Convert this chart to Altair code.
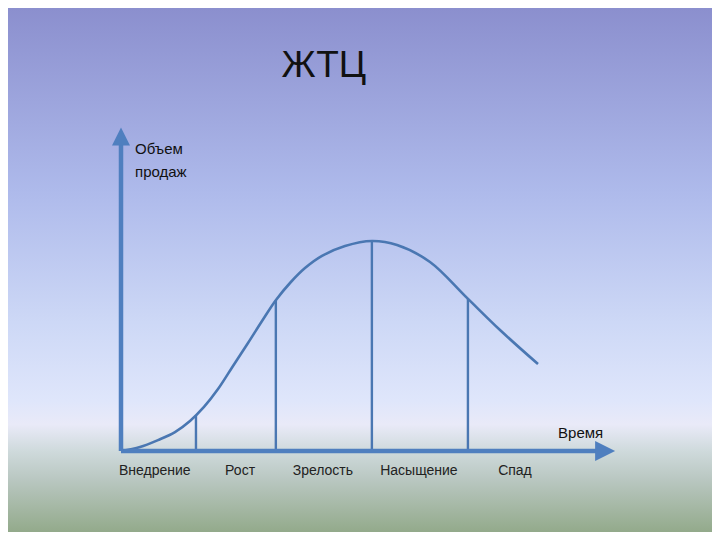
import altair as alt
import pandas as pd

# ---- data (time units / sales units) ----
curve_t = [0.0, 0.388, 0.755, 1.102, 1.408, 1.694, 1.980, 2.286, 2.592, 2.878, 3.163, 3.449, 3.755, 4.102, 4.571, 5.122, 5.633, 6.306, 7.061, 7.735, 8.510]
curve_v = [0.0, 1.9, 5.2, 9.0, 14.3, 21.0, 29.5, 40.5, 51.4, 61.9, 71.9, 80.0, 87.1, 92.9, 97.6, 100.0, 98.1, 90.0, 72.9, 57.6, 41.4]

bound_t = [1.53, 3.16, 5.12, 7.08]
bound_top = [17.0, 71.9, 100.0, 72.4]

stages = ["Внедрение", "Рост", "Зрелость", "Насыщение", "Спад"]
stage_t = [0.69, 2.43, 4.12, 6.08, 8.04]
stage_v = -9.5

title_text = "ЖТЦ"
y_label = ["Объем", "продаж"]
y_label_v = [143.8, 132.9]
x_label = "Время"

axis_x_end = 9.71
axis_y_end = 145.7

W, H = 704, 524
xs = alt.Scale(domain=[-2.306, 12.061], range=[0, W])
ys = alt.Scale(domain=[-38.571, 210.952], range=[H, 0])

AX = "#4f7fbf"
LN = "#4a77b2"

bg = alt.Chart(pd.DataFrame({"a": [0]})).mark_rect(
    color=alt.LinearGradient(
        gradient="linear", x1=0, x2=0, y1=0, y2=1,
        stops=[
            alt.GradientStop(offset=0.0, color="#8b8fce"),
            alt.GradientStop(offset=0.35, color="#aebaeb"),
            alt.GradientStop(offset=0.6, color="#cdd8f6"),
            alt.GradientStop(offset=0.75, color="#dfe6fb"),
            alt.GradientStop(offset=0.795, color="#e9eaf8"),
            alt.GradientStop(offset=0.845, color="#cfdadc"),
            alt.GradientStop(offset=0.9, color="#b9c7c1"),
            alt.GradientStop(offset=1.0, color="#93aa8b"),
        ],
    )
).encode(x=alt.value(0), x2=alt.value(W), y=alt.value(0), y2=alt.value(H))

curve_df = pd.DataFrame({"t": curve_t, "v": curve_v})
curve = alt.Chart(curve_df).mark_line(color=LN, strokeWidth=2.6, interpolate="catmull-rom").encode(
    x=alt.X("t:Q", scale=xs, axis=None), y=alt.Y("v:Q", scale=ys, axis=None)
)

bdf = pd.DataFrame({"t": bound_t, "top": bound_top, "z": [0] * len(bound_t)})
bounds = alt.Chart(bdf).mark_rule(color=LN, strokeWidth=2.4).encode(
    x=alt.X("t:Q", scale=xs, axis=None),
    y=alt.Y("z:Q", scale=ys, axis=None),
    y2="top:Q",
)

axdf = pd.DataFrame({"x0": [0, 0], "x1": [axis_x_end, 0], "y0": [0, 0], "y1": [0, axis_y_end]})
axes = alt.Chart(axdf).mark_rule(color=AX, strokeWidth=4.5).encode(
    x=alt.X("x0:Q", scale=xs, axis=None), x2="x1:Q",
    y=alt.Y("y0:Q", scale=ys, axis=None), y2="y1:Q",
)

arrow_up = alt.Chart(pd.DataFrame({"t": [0.0], "v": [149.8]})).mark_point(
    shape="M-1,1L0,-1L1,1Z", filled=True, color=AX, opacity=1, size=324, strokeWidth=0
).encode(x=alt.X("t:Q", scale=xs, axis=None), y=alt.Y("v:Q", scale=ys, axis=None))

arrow_right = alt.Chart(pd.DataFrame({"t": [9.88], "v": [0.0]})).mark_point(
    shape="M-1,-1L1,0L-1,1Z", filled=True, color=AX, opacity=1, size=400, strokeWidth=0
).encode(x=alt.X("t:Q", scale=xs, axis=None), y=alt.Y("v:Q", scale=ys, axis=None))

sdf = pd.DataFrame({"t": stage_t, "v": [stage_v] * len(stage_t), "s": stages})
stage_text = alt.Chart(sdf).mark_text(
    font="Liberation Sans", fontSize=14, color="#222222", baseline="middle", align="center"
).encode(x=alt.X("t:Q", scale=xs, axis=None), y=alt.Y("v:Q", scale=ys, axis=None), text="s:N")

ydf = pd.DataFrame({"t": [0.286, 0.286], "v": y_label_v, "s": y_label})
ytext = alt.Chart(ydf).mark_text(
    font="Liberation Sans", fontSize=15, color="#111111", baseline="middle", align="left"
).encode(x=alt.X("t:Q", scale=xs, axis=None), y=alt.Y("v:Q", scale=ys, axis=None), text="s:N")

xdf = pd.DataFrame({"t": [9.84], "v": [8.57], "s": [x_label]})
xtext = alt.Chart(xdf).mark_text(
    font="Liberation Sans", fontSize=15, color="#111111", baseline="middle", align="right"
).encode(x=alt.X("t:Q", scale=xs, axis=None), y=alt.Y("v:Q", scale=ys, axis=None), text="s:N")

tdf = pd.DataFrame({"t": [4.14], "v": [183.3], "s": [title_text]})
ttext = alt.Chart(tdf).mark_text(
    font="Liberation Sans", fontSize=37, color="#111111", baseline="middle", align="center"
).encode(x=alt.X("t:Q", scale=xs, axis=None), y=alt.Y("v:Q", scale=ys, axis=None), text="s:N")

chart = alt.layer(
    bg, bounds, curve, axes, arrow_up, arrow_right, stage_text, ytext, xtext, ttext
).properties(
    width=W, height=H, padding=0, autosize=alt.AutoSizeParams(type="none")
).configure_view(stroke=None)

chart.save("out.html", embed_options={"renderer": "svg", "actions": False})
